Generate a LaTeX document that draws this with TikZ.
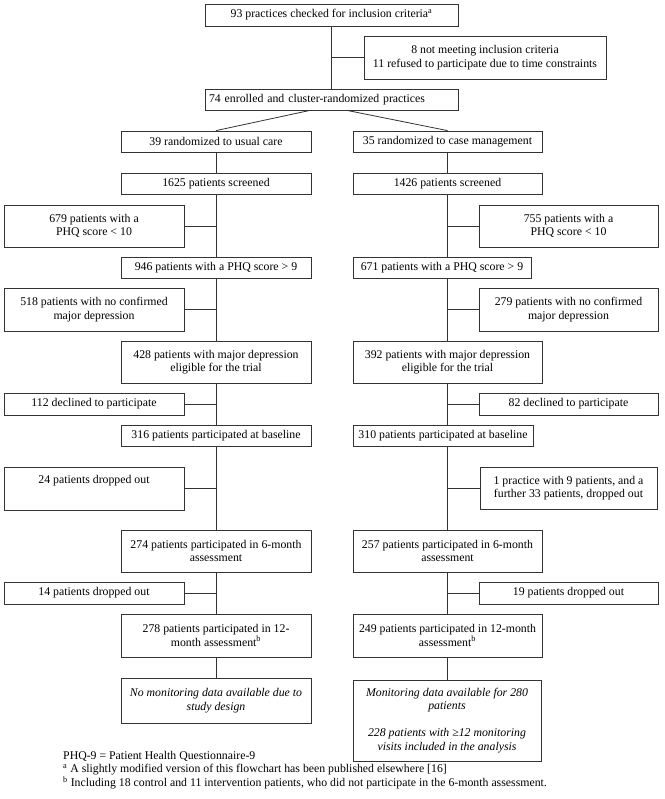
\documentclass[tikz,border=0pt]{standalone}
\usepackage{fontspec}
\setmainfont{Liberation Serif}
\usepackage{tikz}

\newcommand{\chartfont}{\fontsize{11.8}{13.5}\selectfont}

\begin{document}
\begin{tikzpicture}[x=1pt, y=-1pt,
  box/.style={draw=black!80, line width=0.8pt, inner sep=1pt, align=center, font=\chartfont},
  link/.style={draw=black!80, line width=0.8pt}]

  \useasboundingbox (0,0) rectangle (664,799);

  % practices
  \node[box, minimum width=253, minimum height=22] (checked) at (331.5,15) {93 practices checked for inclusion criteria\textsuperscript{a}};
  \node[box, minimum width=242, minimum height=43] (excluded) at (485,57.5) {8 not meeting inclusion criteria\\11 refused to participate due to time constraints};
  \node[box, minimum width=253, minimum height=21, text width=245, align=left] (enrolled) at (331.5,99.5) {74 enrolled and cluster-randomized practices};

  % usual care arm
  \node[box, minimum width=190, minimum height=21] (usual) at (216,141.5) {39 randomized to usual care};
  \node[box, minimum width=190, minimum height=21] (screenU) at (216,183.5) {1625 patients screened};
  \node[box, minimum width=180, minimum height=42] (lowU) at (94,226) {679 patients with a\\PHQ score < 10};
  \node[box, minimum width=190, minimum height=21] (phqU) at (216,267.5) {946 patients with a PHQ score > 9};
  \node[box, minimum width=180, minimum height=43] (noneU) at (94,309.5) {518 patients with no confirmed\\major depression};
  \node[box, minimum width=190, minimum height=42] (majorU) at (216,362) {428 patients with major depression\\eligible for the trial};
  \node[box, minimum width=180, minimum height=22] (declU) at (94,404) {112 declined to participate};
  \node[box, minimum width=190, minimum height=21] (baseU) at (216,435.5) {316 patients participated at baseline};
  \node[box, minimum width=180, minimum height=43] (dropU) at (94,488.5) {24 patients dropped out\\\strut};
  \node[box, minimum width=190, minimum height=42] (sixU) at (216,551) {274 patients participated in 6-month\\assessment};
  \node[box, minimum width=180, minimum height=22] (lateU) at (94,593) {14 patients dropped out};
  \node[box, minimum width=190, minimum height=43] (twelveU) at (216,635.5) {278 patients participated in 12-\\month assessment\textsuperscript{b}};
  \node[box, minimum width=190, minimum height=45, font=\chartfont\itshape] (monU) at (216,700.5) {No monitoring data available due to\\study design};

  % case management arm
  \node[box, minimum width=189, minimum height=21] (case) at (447.5,141.5) {35 randomized to case management};
  \node[box, minimum width=189, minimum height=21] (screenC) at (447.5,183.5) {1426 patients screened};
  \node[box, minimum width=179, minimum height=42] (lowC) at (568.5,226) {755 patients with a\\PHQ score < 10};
  \node[box, minimum width=178, minimum height=21] (phqC) at (442,267.5) {671 patients with a PHQ score > 9};
  \node[box, minimum width=179, minimum height=43] (noneC) at (568.5,309.5) {279 patients with no confirmed\\major depression};
  \node[box, minimum width=189, minimum height=42] (majorC) at (447.5,362) {392 patients with major depression\\eligible for the trial};
  \node[box, minimum width=179, minimum height=22] (declC) at (568.5,404) {82 declined to participate};
  \node[box, minimum width=180, minimum height=21] (baseC) at (443,435.5) {310 patients participated at baseline};
  \node[box, minimum width=177, minimum height=42] (dropC) at (568.5,488) {1 practice with 9 patients, and a\\further 33 patients, dropped out};
  \node[box, minimum width=189, minimum height=42] (sixC) at (447.5,551) {257 patients participated in 6-month\\assessment};
  \node[box, minimum width=179, minimum height=22] (lateC) at (568.5,593) {19 patients dropped out};
  \node[box, minimum width=189, minimum height=43] (twelveC) at (447.5,635.5) {249 patients participated in 12-month\\assessment\textsuperscript{b}};
  \node[box, minimum width=188, minimum height=81, font=\chartfont\itshape] (monC) at (447,720.5) {Monitoring data available for 280\\patients\\[13.5pt]228 patients with ≥12 monitoring\\visits included in the analysis};

  % footnotes
  \node[anchor=north west, align=left, inner sep=0pt, font=\chartfont] (notes) at (63,751) {PHQ-9 = Patient Health Questionnaire-9\\\textsuperscript{a} A slightly modified version of this flowchart has been published elsewhere [16]\\\textsuperscript{b} Including 18 control and 11 intervention patients, who did not participate in the 6-month assessment.};

  % connectors
  \draw[link] (checked.south) -- (enrolled.north);
  \draw[link] (excluded.west) -- (excluded.west -| checked.south);
  \draw[link] ([xshift=-21.5pt]enrolled.south) -- (usual.north);
  \draw[link] ([xshift=15.5pt]enrolled.south) -- (case.north);

  \draw[link] (usual.south) -- (screenU.north);
  \draw[link] (screenU.south) -- (phqU.north);
  \draw[link] (phqU.south) -- (majorU.north);
  \draw[link] (majorU.south) -- (baseU.north);
  \draw[link] (baseU.south) -- (sixU.north);
  \draw[link] (sixU.south) -- (twelveU.north);
  \draw[link] (twelveU.south) -- (monU.north);
  \draw[link] (lowU.east) -- (lowU.east -| usual.south);
  \draw[link] (noneU.east) -- (noneU.east -| usual.south);
  \draw[link] (declU.east) -- (declU.east -| usual.south);
  \draw[link] (dropU.east) -- (dropU.east -| usual.south);
  \draw[link] (lateU.east) -- (lateU.east -| usual.south);

  \draw[link] (case.south) -- (screenC.north);
  \draw[link] (screenC.south) -- (screenC.south |- phqC.north);
  \draw[link] (screenC.south |- phqC.south) -- (majorC.north);
  \draw[link] (majorC.south) -- (majorC.south |- baseC.north);
  \draw[link] (majorC.south |- baseC.south) -- (sixC.north);
  \draw[link] (sixC.south) -- (twelveC.north);
  \draw[link] (twelveC.south) -- (twelveC.south |- monC.north);
  \draw[link] (lowC.west) -- (lowC.west -| case.south);
  \draw[link] (noneC.west) -- (noneC.west -| case.south);
  \draw[link] (declC.west) -- (declC.west -| case.south);
  \draw[link] (dropC.west) -- (dropC.west -| case.south);
  \draw[link] (lateC.west) -- (lateC.west -| case.south);

\end{tikzpicture}
\end{document}
